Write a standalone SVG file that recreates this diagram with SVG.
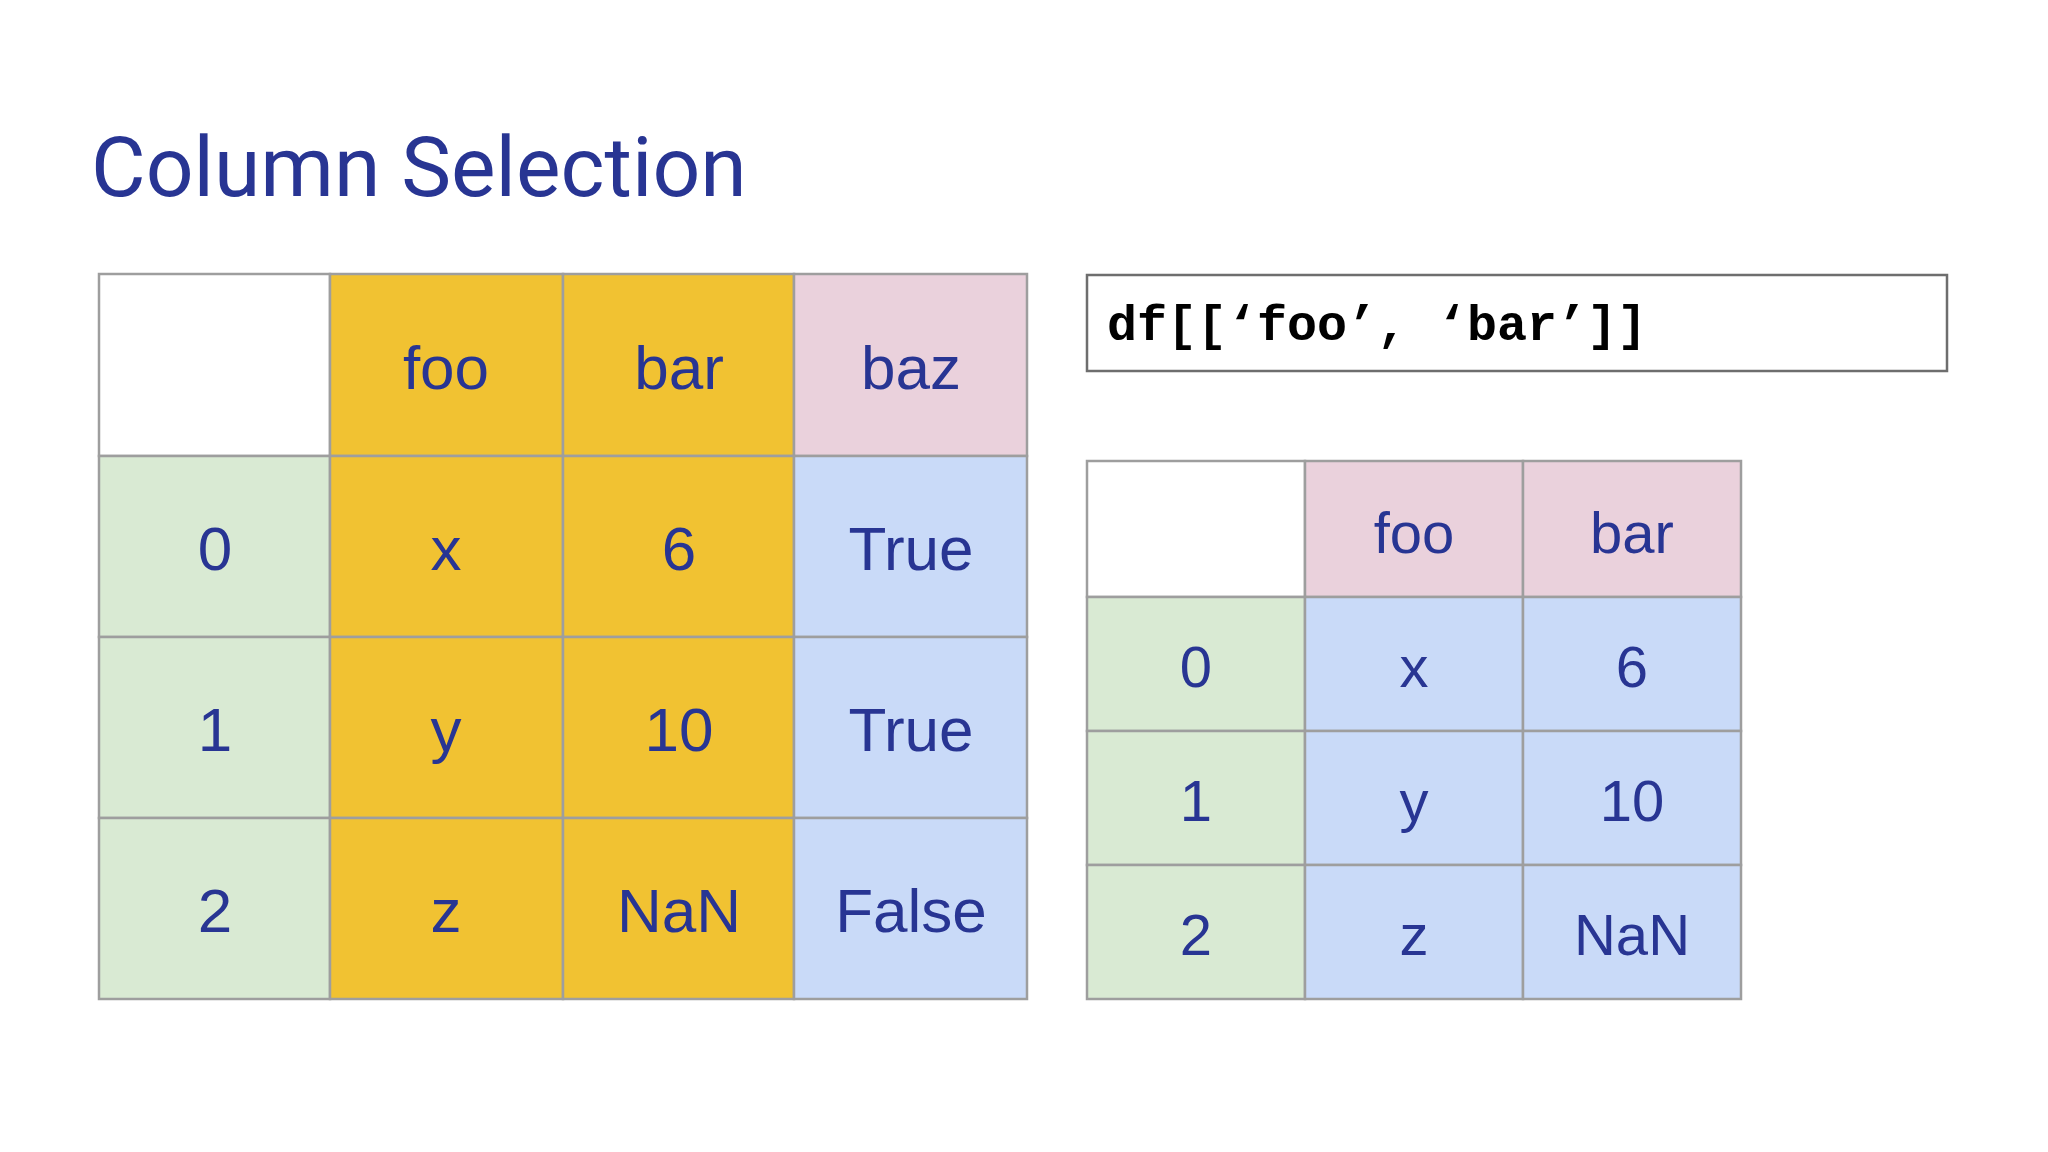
<svg xmlns="http://www.w3.org/2000/svg" width="2048" height="1152" viewBox="0 0 2048 1152">
<style>
.c{stroke:#9e9e9e;stroke-width:2.5}
.y{fill:#f1c232}.p{fill:#ead1dc}.g{fill:#d9ead3}.b{fill:#c9daf8}.w{fill:#fff}
.t{font-family:"Liberation Sans",Arial,sans-serif;font-size:62px;fill:#283593;text-anchor:middle;dominant-baseline:central}
.s{font-size:58px}
</style>
<rect width="2048" height="1152" fill="#fff"/>
<text x="91" y="196" font-family="Roboto,sans-serif" font-size="84" fill="#283593">Column Selection</text>
<g id="left-table">
<rect class="c w" x="99" y="274" width="231" height="182"/>
<rect class="c y" x="330" y="274" width="233" height="182"/>
<rect class="c y" x="563" y="274" width="231" height="182"/>
<rect class="c p" x="794" y="274" width="233" height="182"/>
<rect class="c g" x="99" y="456" width="231" height="181"/>
<rect class="c y" x="330" y="456" width="233" height="181"/>
<rect class="c y" x="563" y="456" width="231" height="181"/>
<rect class="c b" x="794" y="456" width="233" height="181"/>
<rect class="c g" x="99" y="637" width="231" height="181"/>
<rect class="c y" x="330" y="637" width="233" height="181"/>
<rect class="c y" x="563" y="637" width="231" height="181"/>
<rect class="c b" x="794" y="637" width="233" height="181"/>
<rect class="c g" x="99" y="818" width="231" height="181"/>
<rect class="c y" x="330" y="818" width="233" height="181"/>
<rect class="c y" x="563" y="818" width="231" height="181"/>
<rect class="c b" x="794" y="818" width="233" height="181"/>
<text class="t" x="446" y="367">foo</text><text class="t" x="679" y="367">bar</text><text class="t" x="911" y="367">baz</text>
<text class="t" x="215" y="548">0</text><text class="t" x="446" y="548">x</text><text class="t" x="679" y="548">6</text><text class="t" x="911" y="548">True</text>
<text class="t" x="215" y="729">1</text><text class="t" x="446" y="729">y</text><text class="t" x="679" y="729">10</text><text class="t" x="911" y="729">True</text>
<text class="t" x="215" y="910">2</text><text class="t" x="446" y="910">z</text><text class="t" x="679" y="910">NaN</text><text class="t" x="911" y="910">False</text>
</g>
<g id="code">
<rect x="1087" y="275" width="860" height="96" fill="#fff" stroke="#6e6e6e" stroke-width="2.5"/>
<text x="1107" y="340" font-family="Liberation Mono,monospace" font-weight="bold" font-size="50" fill="#000">df[[‘foo’, ‘bar’]]</text>
</g>
<g id="right-table">
<rect class="c w" x="1087" y="461" width="218" height="136"/>
<rect class="c p" x="1305" y="461" width="218" height="136"/>
<rect class="c p" x="1523" y="461" width="218" height="136"/>
<rect class="c g" x="1087" y="597" width="218" height="134"/>
<rect class="c b" x="1305" y="597" width="218" height="134"/>
<rect class="c b" x="1523" y="597" width="218" height="134"/>
<rect class="c g" x="1087" y="731" width="218" height="134"/>
<rect class="c b" x="1305" y="731" width="218" height="134"/>
<rect class="c b" x="1523" y="731" width="218" height="134"/>
<rect class="c g" x="1087" y="865" width="218" height="134"/>
<rect class="c b" x="1305" y="865" width="218" height="134"/>
<rect class="c b" x="1523" y="865" width="218" height="134"/>
<text class="t s" x="1414" y="532">foo</text><text class="t s" x="1632" y="532">bar</text>
<text class="t s" x="1196" y="666">0</text><text class="t s" x="1414" y="666">x</text><text class="t s" x="1632" y="666">6</text>
<text class="t s" x="1196" y="800">1</text><text class="t s" x="1414" y="800">y</text><text class="t s" x="1632" y="800">10</text>
<text class="t s" x="1196" y="934">2</text><text class="t s" x="1414" y="934">z</text><text class="t s" x="1632" y="934">NaN</text>
</g>
</svg>
